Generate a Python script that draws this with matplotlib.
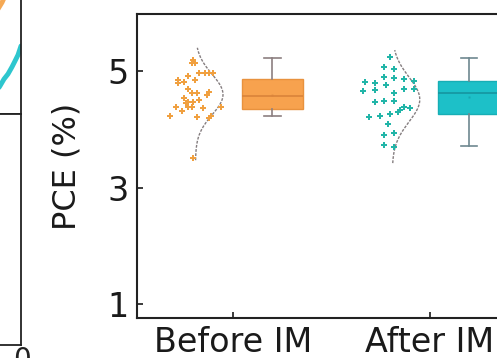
import numpy as np
import matplotlib
matplotlib.use("Agg")
import matplotlib.pyplot as plt

# ---------------- data ----------------
categories = ["Before IM", "After IM"]
yticks = [1, 3, 5]

before_vals = [5.19, 5.14, 5.14, 4.97, 4.97, 4.97, 4.97, 4.85, 4.81, 4.91, 4.85,
               4.79, 4.69, 4.62, 4.62, 4.64, 4.59, 4.54, 4.47, 4.47, 4.50, 4.45,
               4.38, 4.31, 4.38, 4.38, 4.36, 4.38, 4.23, 4.21, 4.23, 4.19, 3.51]
before_jit = [-0.20, -0.19, -0.21, -0.17, -0.14, -0.12, -0.10, -0.28, -0.25, -0.23,
              -0.19, -0.28, -0.23, -0.21, -0.18, -0.12, -0.13, -0.25, -0.23, -0.20,
              -0.17, -0.24, -0.29, -0.26, -0.23, -0.21, -0.15, -0.06, -0.32, -0.18,
              -0.11, -0.12, -0.20]

after_vals = [5.24, 5.07, 5.03, 4.90, 4.88, 4.86, 4.83, 4.81, 4.79, 4.76, 4.66,
              4.67, 4.62, 4.69, 4.69, 4.47, 4.48, 4.48, 4.33, 4.38, 4.36, 4.21,
              4.23, 4.26, 4.09, 3.90, 3.94, 3.73, 3.70, 4.30]
after_jit = [-0.20, -0.23, -0.18, -0.23, -0.18, -0.13, -0.08, -0.33, -0.28, -0.22,
             -0.34, -0.28, -0.18, -0.13, -0.08, -0.28, -0.23, -0.18, -0.15, -0.13,
             -0.10, -0.31, -0.25, -0.20, -0.21, -0.23, -0.18, -0.23, -0.18, -0.16]

# box statistics
box_q1 = [4.35, 4.26]
box_med = [4.57, 4.62]
box_q3 = [4.86, 4.83]
box_lo = [4.23, 3.71]
box_hi = [5.22, 5.22]
box_mean = [4.59, 4.55]

# extent of the half-violin curves
violin_lo = [3.47, 3.42]
violin_hi = [5.40, 5.36]

# neighbouring panel sliver (left)
nb_cyan_x = [10.0, 9.7, 9.4, 9.1, 8.7, 8.3, 7.9, 7.5]
nb_cyan_y = [4.15, 3.6, 3.23, 2.87, 2.44, 2.13, 1.71, 1.34]
nb_orange_x = [7.5, 7.8, 8.1, 8.4]
nb_orange_y = [6.2, 6.5, 6.8, 7.2]

# ---------------- style ----------------
face_cols = ["#F7A24E", "#1DC0C8"]
edge_cols = ["#E8923E", "#17AEB5"]
med_cols = ["#D9833A", "#1595A0"]
pt_cols = ["#F0A040", "#22B5A8"]
whisk_cols = ["#8C7F80", "#6E8890"]
curve_col = "#857E80"

W, H = 497, 358
fig = plt.figure(figsize=(W / 100, H / 100), dpi=100)

def px_axes(l, t, r, b):
    return fig.add_axes([l / W, 1 - b / H, (r - l) / W, (b - t) / H])

# neighbour panel sliver
ax_a = px_axes(-79, -50, 21, 114)
ax_a.plot(nb_cyan_x, nb_cyan_y, color="#2EC6CE", lw=3.5, solid_capstyle="round")
ax_a.plot(nb_orange_x, nb_orange_y, color="#F5A955", lw=3.5)
ax_a.set_xlim(0, 10)
ax_a.set_ylim(0, 10)
ax_b = px_axes(-79, 114, 21, 345)
for a in (ax_a, ax_b):
    a.set_xticks([])
    a.set_yticks([])
    for s in a.spines.values():
        s.set_linewidth(1.3)
        s.set_color("#222222")
fig.text(22 / W, 1 - 346 / H, "0", fontsize=20, ha="center", va="top", color="#222222")

# main axes
ax = px_axes(137, 14, 528, 318)
xpos = np.arange(len(categories))
v_off, b_off, v_w, b_w = -0.19, 0.20, 0.14, 0.31

groups = [(before_vals, before_jit), (after_vals, after_jit)]
for i, (vals, jit) in enumerate(groups):
    vals = np.asarray(vals)
    ax.scatter(xpos[i] + np.asarray(jit), vals, marker="P", s=18,
               color=pt_cols[i], linewidths=0, zorder=3)
    mu, sd = vals.mean(), vals.std()
    yy = np.linspace(violin_lo[i], violin_hi[i], 200)
    dens = np.exp(-0.5 * ((yy - mu) / sd) ** 2)
    ax.plot(xpos[i] + v_off + v_w * dens, yy, color=curve_col, lw=1.0,
            ls=(0, (2, 1)), zorder=2)

for i in range(len(categories)):
    st = dict(q1=box_q1[i], med=box_med[i], q3=box_q3[i], mean=box_mean[i],
              whislo=box_lo[i], whishi=box_hi[i], fliers=[])
    ax.bxp([st], positions=[xpos[i] + b_off], widths=b_w,
           patch_artist=True, showfliers=False, showmeans=True,
           boxprops=dict(facecolor=face_cols[i], edgecolor=edge_cols[i], lw=1.0),
           medianprops=dict(color=med_cols[i], lw=1.2),
           meanprops=dict(marker="s", markersize=2, markerfacecolor=med_cols[i],
                          markeredgecolor="none", alpha=0.6),
           whiskerprops=dict(color=whisk_cols[i], lw=1.2),
           capprops=dict(color=whisk_cols[i], lw=1.2),
           capwidths=0.085, manage_ticks=False)

ax.set_xlim(-0.487, 1.5)
ax.set_ylim(0.76, 5.98)
ax.set_xticks(xpos)
ax.set_xticklabels(categories)
ax.set_yticks(yticks)
ax.tick_params(direction="in", length=4, width=1.2, labelsize=24, pad=6,
               colors="#1a1a1a")
ax.tick_params(axis="x", pad=6)
for s in ax.spines.values():
    s.set_linewidth(1.5)
    s.set_color("#222222")
ax.set_ylabel("PCE (%)", fontsize=23, labelpad=18, color="#1a1a1a")

fig.savefig("out.png", dpi=100)
